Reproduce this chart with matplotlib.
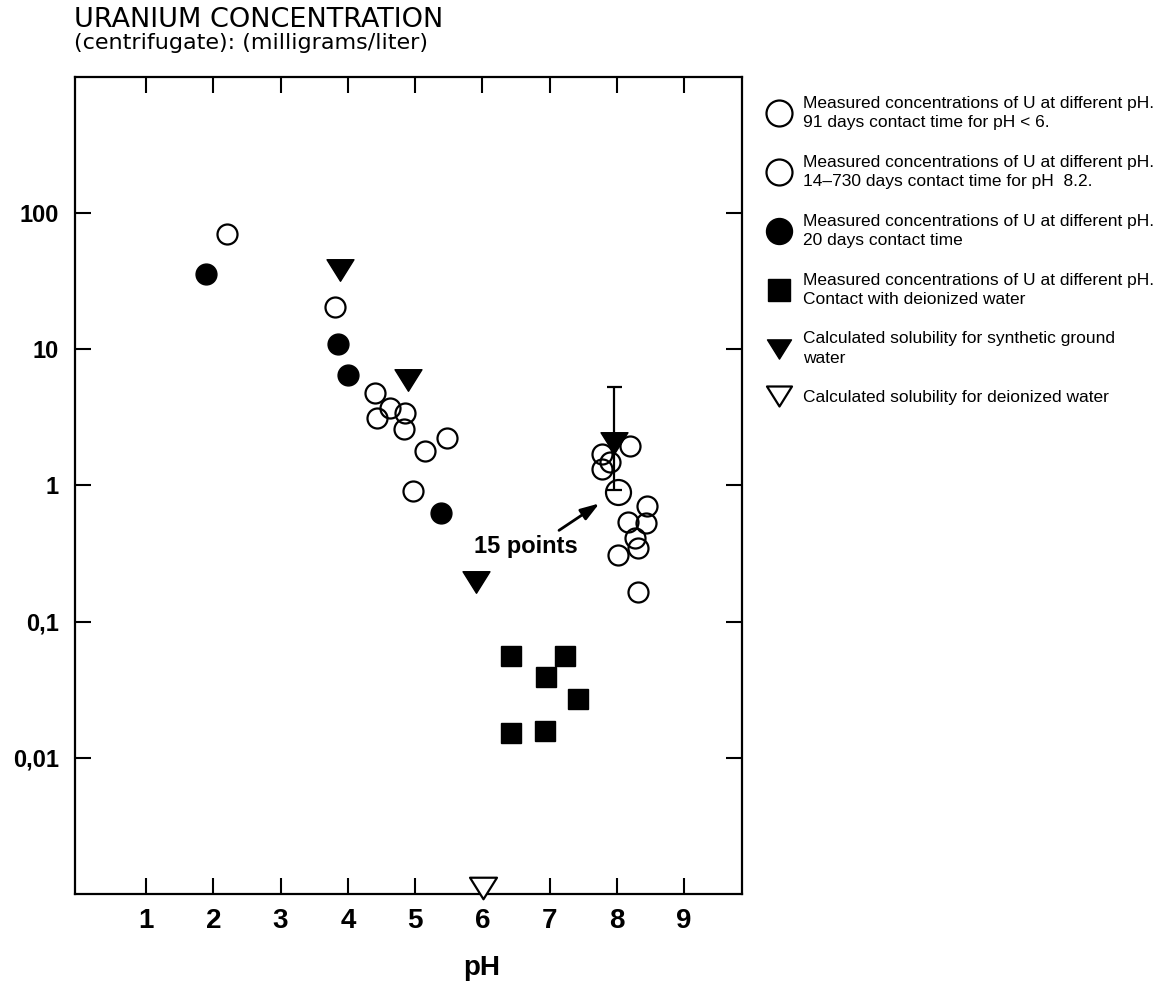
"""Uranium concentration in centrifugate versus pH (log scale)."""
import matplotlib
matplotlib.use('Agg')
import matplotlib.pyplot as plt
from matplotlib import font_manager
from matplotlib.lines import Line2D
from matplotlib.path import Path

plt.rcParams['font.family'] = ['Liberation Sans', 'DejaVu Sans']
names = {f.name for f in font_manager.fontManager.ttflist}
narrow = 'Liberation Sans Narrow' if 'Liberation Sans Narrow' in names else 'Liberation Sans'

# open circles, 91 days contact, pH < 6
open_lo_ph = [2.21, 3.81, 4.41, 4.62, 4.85, 4.44, 4.84, 5.48, 5.15, 4.97]
open_lo_u = [70, 20.6, 4.78, 3.69, 3.39, 3.15, 2.61, 2.23, 1.79, 0.91]

# open circles, 14-730 days contact, pH 8.2
open_hi_ph = [8.20, 7.78, 7.90, 7.78, 8.45, 8.16, 8.43, 8.27, 8.32, 8.02, 8.31]
open_hi_u = [1.95, 1.71, 1.49, 1.31, 0.71, 0.535, 0.526, 0.41, 0.345, 0.31, 0.166]
big_ph = [8.01]          # the "15 points" circle
big_u = [0.895]

# filled circles, 20 days contact
filled_ph = [1.89, 3.86, 4.01, 5.38]
filled_u = [35.8, 11.0, 6.5, 0.63]

# squares, deionized water
sq_ph = [6.43, 7.23, 6.95, 7.42, 6.42, 6.93]
sq_u = [0.0557, 0.0557, 0.039, 0.0269, 0.0153, 0.0157]

# calculated solubility, synthetic ground water
calc_ph = [3.88, 4.89, 5.91, 7.96]
calc_u = [38.5, 5.9, 0.195, 2.06]
err_ph = [7.96]
err_u = [2.06]
err_lo = [0.92]
err_hi = [5.25]

# calculated solubility, deionized water
calc_di_ph = [6.01]
calc_di_u = [0.0011]

xticks = [1, 2, 3, 4, 5, 6, 7, 8, 9]
yticks = [0.01, 0.1, 1, 10, 100]
ytick_labels = ['0,01', '0,1', '1', '10', '100']

# downward triangle, a little wider than tall, closed outline
tri_down = Path([(-1, 0.8), (1, 0.8), (0, -0.8), (-1, 0.8)],
                [Path.MOVETO, Path.LINETO, Path.LINETO, Path.CLOSEPOLY])

fig = plt.figure(figsize=(11.74, 9.89), dpi=100)
ax = fig.add_axes([0.0639, 0.0961, 0.5681, 0.8261])
ax.set_yscale('log')
ax.set_xlim(-0.056, 9.86)
ax.set_ylim(1e-3, 1e3)

ax.plot(open_lo_ph, open_lo_u, 'o', ms=14.4, mfc='none', mec='black', mew=1.6)
ax.plot(open_hi_ph, open_hi_u, 'o', ms=14.4, mfc='none', mec='black', mew=1.6)
ax.plot(big_ph, big_u, 'o', ms=18, mfc='none', mec='black', mew=1.6)
ax.plot(filled_ph, filled_u, 'o', ms=15, color='black')
ax.plot(sq_ph, sq_u, 's', ms=14.4, color='black')
ax.errorbar(err_ph, err_u,
            yerr=[[u - lo for u, lo in zip(err_u, err_lo)],
                  [hi - u for u, hi in zip(err_u, err_hi)]],
            fmt='none', ecolor='black', elinewidth=1.6, capsize=5.4, capthick=1.6)
ax.plot(calc_ph, calc_u, ls='none', marker=tri_down, ms=19.4, color='black')
ax.plot(calc_di_ph, calc_di_u, ls='none', marker=tri_down, ms=19.4,
        mfc='white', mec='black', mew=1.6, clip_on=False, zorder=5)

# "15 points" note
ax.annotate('', xy=(7.74, 0.738), xytext=(7.14, 0.468),
            arrowprops=dict(arrowstyle='-|>,head_length=0.75,head_width=0.25',
                            lw=2, color='black', mutation_scale=15,
                            shrinkA=0, shrinkB=0))
ax.text(6.64, 0.359, '15 points', ha='center', va='center',
        fontsize=17, fontweight='bold')

ax.set_xticks(xticks)
ax.set_xticklabels([str(v) for v in xticks], family=narrow,
                   fontsize=20, fontweight='bold')
ax.set_yticks(yticks)
ax.set_yticklabels(ytick_labels, fontsize=17, fontweight='bold')
ax.minorticks_off()
ax.tick_params(which='both', direction='in', top=True, right=True,
               length=11.5, width=1.5)
ax.tick_params(axis='y', pad=11.5)
ax.tick_params(axis='x', pad=10)
for s in ax.spines.values():
    s.set_linewidth(1.6)

ax.set_xlabel('pH', family=narrow, fontsize=20, fontweight='bold')
ax.xaxis.set_label_coords(0.610, -0.075)

fig.text(0.063, 0.9725, 'URANIUM CONCENTRATION', fontsize=19.5,
         family='DejaVu Sans', va='baseline')
fig.text(0.063, 0.9505, '(centrifugate): (milligrams/liter)', fontsize=16,
         family='DejaVu Sans', va='baseline')

handles = [
    Line2D([], [], ls='none', marker='o', ms=18.7, mfc='none', mec='black', mew=1.6),
    Line2D([], [], ls='none', marker='o', ms=18.7, mfc='none', mec='black', mew=1.6),
    Line2D([], [], ls='none', marker='o', ms=18.7, color='black'),
    Line2D([], [], ls='none', marker='s', ms=16, color='black'),
    Line2D([], [], ls='none', marker=tri_down, ms=17.3, color='black'),
    Line2D([], [], ls='none', marker=tri_down, ms=18, mfc='white', mec='black', mew=1.6),
]
labels = [
    'Measured concentrations of U at different pH.\n91 days contact time for pH < 6.',
    'Measured concentrations of U at different pH.\n14\u2013730 days contact time for pH  8.2.',
    'Measured concentrations of U at different pH.\n20 days contact time',
    'Measured concentrations of U at different pH.\nContact with deionized water',
    'Calculated solubility for synthetic ground\nwater',
    'Calculated solubility for deionized water',
]
leg = fig.legend(handles, labels, loc='upper left', bbox_to_anchor=(0.656, 0.903),
                 frameon=False, fontsize=12.5, handlelength=1.0, handletextpad=0.88,
                 labelspacing=1.4, borderpad=0, borderaxespad=0, numpoints=1)
for t in leg.get_texts():
    t.set_linespacing(1.38)

fig.savefig('out.png', dpi=100, facecolor='white')
